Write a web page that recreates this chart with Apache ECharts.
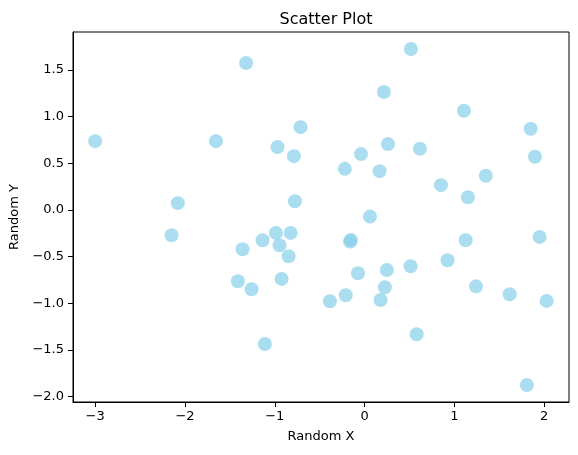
<!DOCTYPE html>
<html lang="en">
<head>
    <meta charset="UTF-8">
    <title>Scatter Plot</title>
    <script src="https://cdn.jsdelivr.net/npm/echarts@6.0.0/dist/echarts.min.js"></script>
    <style>
        body { margin: 0; background: #fff; }
        #chart { width: 578px; height: 455px; }
    </style>
</head>
<body>
    <div id="chart"></div>
    <script>
        // point coordinates
        var xValues = [
            -3.00, -1.655, -1.32, -0.97, -0.713, -0.787, -0.776, -2.08, -2.149, -1.359,
            -1.411, -1.258, -1.11, -1.136, -0.988, -0.947, -0.924, -0.846, -0.824,
            0.516, 0.215, 1.106, 1.849, 1.897, 0.26, -0.04, -0.22, 0.167, 0.616,
            1.35, 0.85, 1.15, 0.06, -0.163, -0.152, 1.125, 1.949, 0.924, 0.512,
            0.248, -0.074, 0.226, 1.24, 1.615, -0.21, -0.386, 0.178, 2.027, 0.58, 1.807
        ];
        var yValues = [
            0.737, 0.737, 1.574, 0.673, 0.887, 0.576, 0.093, 0.072, -0.272, -0.422,
            -0.765, -0.851, -1.438, -0.325, -0.247, -0.379, -0.74, -0.497, -0.247,
            1.724, 1.263, 1.062, 0.869, 0.569, 0.705, 0.598, 0.44, 0.415, 0.655,
            0.365, 0.265, 0.136, -0.072, -0.34, -0.322, -0.325, -0.29, -0.54, -0.604,
            -0.644, -0.68, -0.83, -0.82, -0.905, -0.915, -0.98, -0.966, -0.976, -1.334, -1.878
        ];
        var xTicks = [-3, -2, -1, 0, 1, 2];
        var yTicks = [-2, -1.5, -1, -0.5, 0, 0.5, 1, 1.5];

        var points = xValues.map(function (x, i) { return [x, yValues[i]]; });

        function minus(s) { return s.replace('-', '\u2212'); }

        var font = 'DejaVu Sans';
        var myChart = echarts.init(document.getElementById('chart'));

        var option = {
            animation: false,
            title: {
                text: 'Scatter Plot',
                left: 321, top: 7,
                textAlign: 'center',
                textStyle: { fontFamily: font, fontSize: 16, fontWeight: 'normal', color: '#000' }
            },
            grid: {
                left: 73, right: 9, top: 32, bottom: 53,
                outerBoundsMode: 'none',
                show: true, borderColor: '#000', borderWidth: 1, backgroundColor: 'transparent'
            },
            xAxis: {
                type: 'value',
                min: -3.247, max: 2.276,
                name: 'Random X',
                nameLocation: 'middle',
                nameGap: 28,
                nameTextStyle: { fontFamily: font, fontSize: 13, color: '#000' },
                axisLine: { show: true, onZero: false, lineStyle: { color: '#000' } },
                axisTick: { show: true, length: 5, customValues: xTicks, lineStyle: { color: '#000' } },
                axisLabel: {
                    customValues: xTicks, margin: 8,
                    fontFamily: font, fontSize: 13, color: '#000',
                    formatter: function (v) { return minus(String(v)); }
                },
                splitLine: { show: false }
            },
            yAxis: {
                type: 'value',
                min: -2.06, max: 1.907,
                name: 'Random Y',
                nameLocation: 'middle',
                nameGap: 49,
                nameRotate: 90,
                nameTextStyle: { fontFamily: font, fontSize: 13, color: '#000' },
                axisLine: { show: true, onZero: false, lineStyle: { color: '#000' } },
                axisTick: { show: true, length: 5, customValues: yTicks, lineStyle: { color: '#000' } },
                axisLabel: {
                    customValues: yTicks, margin: 9,
                    fontFamily: font, fontSize: 13, color: '#000',
                    formatter: function (v) { return minus(v.toFixed(1)); }
                },
                splitLine: { show: false }
            },
            series: [{
                type: 'scatter',
                data: points,
                symbolSize: 14,
                itemStyle: { color: 'skyblue', opacity: 0.7 }
            }]
        };

        myChart.setOption(option);
    </script>
</body>
</html>
